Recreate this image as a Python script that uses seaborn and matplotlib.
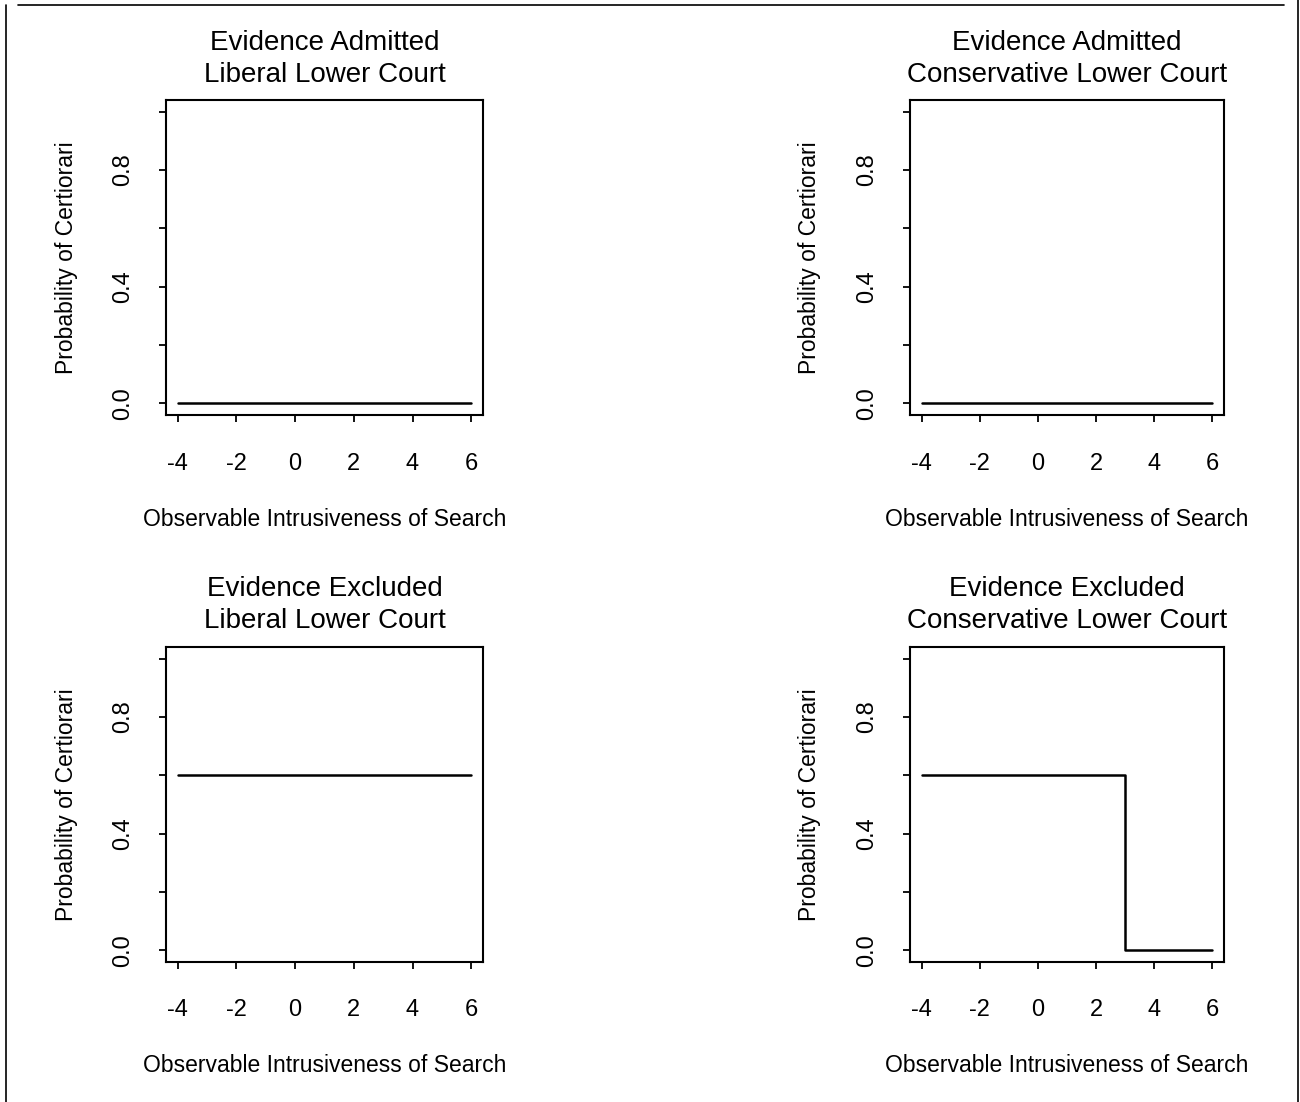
import matplotlib
matplotlib.use("Agg")
import matplotlib.pyplot as plt
from matplotlib.lines import Line2D
import seaborn as sns

# step points of the predicted probability (steps-post)
intrusiveness = [-4, 3, 6]
admitted_liberal = [0.0, 0.0, 0.0]
admitted_conservative = [0.0, 0.0, 0.0]
excluded_liberal = [0.6, 0.6, 0.6]
excluded_conservative = [0.6, 0.0, 0.0]

panel_titles = [
    "Evidence Admitted\nLiberal Lower Court",
    "Evidence Admitted\nConservative Lower Court",
    "Evidence Excluded\nLiberal Lower Court",
    "Evidence Excluded\nConservative Lower Court",
]
panel_values = [admitted_liberal, admitted_conservative,
                excluded_liberal, excluded_conservative]

x_ticks = [-4, -2, 0, 2, 4, 6]
y_ticks = [0.0, 0.2, 0.4, 0.6, 0.8, 1.0]
y_ticklabels = ["0.0", "", "0.4", "", "0.8", ""]
x_label = "Observable Intrusiveness of Search"
y_label = "Probability of Certiorari"

sns.set_style("ticks")
plt.rcParams["font.family"] = ["Liberation Sans", "DejaVu Sans"]
plt.rcParams["axes.unicode_minus"] = False
for key in ["text.color", "axes.labelcolor", "xtick.color", "ytick.color"]:
    plt.rcParams[key] = "black"

W, H = 1300, 1102
fig = plt.figure(figsize=(W / 100, H / 100), dpi=100)

# axes boxes in pixels: left, top, right, bottom
boxes = [(166, 100, 483, 415), (910, 100, 1224, 415),
         (166, 647, 483, 962), (910, 647, 1224, 962)]

for (l, t, r, b), title, vals in zip(boxes, panel_titles, panel_values):
    ax = fig.add_axes([l / W, 1 - b / H, (r - l) / W, (b - t) / H])
    sns.lineplot(x=intrusiveness, y=vals, ax=ax, color="black",
                 linewidth=1.8, drawstyle="steps-post")
    ax.set_xlim(-4.4, 6.4)
    ax.set_ylim(-0.04, 1.04)
    ax.set_xticks(x_ticks)
    ax.set_yticks(y_ticks, labels=y_ticklabels)
    ax.tick_params(axis="x", length=5, width=1.3, pad=22, labelsize=17)
    ax.tick_params(axis="y", length=5, width=1.3, pad=18, labelsize=17,
                   labelrotation=90)
    for lab in ax.get_yticklabels():
        lab.set_va("center")
    for sp in ax.spines.values():
        sp.set_visible(True)
        sp.set_linewidth(1.5)
        sp.set_color("black")
    h, w = b - t, r - l
    ax.set_xlabel(x_label, fontsize=16.5, va="center")
    ax.xaxis.set_label_coords(0.5, -104 / h)
    ax.set_ylabel(y_label, fontsize=16.5, va="center")
    ax.yaxis.set_label_coords(-100 / w, 0.5)
    ax.set_title(title, fontsize=20, y=1 + 41.5 / h, pad=0,
                 va="center", linespacing=1.3)

# scanned page frame
fig.add_artist(Line2D([18 / W, 1284 / W], [1 - 5 / H, 1 - 5 / H],
                      transform=fig.transFigure, color="black", lw=1.2))
fig.add_artist(Line2D([6 / W, 6 / W], [0, 1 - 5 / H],
                      transform=fig.transFigure, color="black", lw=1.2))
fig.add_artist(Line2D([1298 / W, 1298 / W], [0, 1],
                      transform=fig.transFigure, color="black", lw=1.2))

fig.savefig("out.png", dpi=100)
